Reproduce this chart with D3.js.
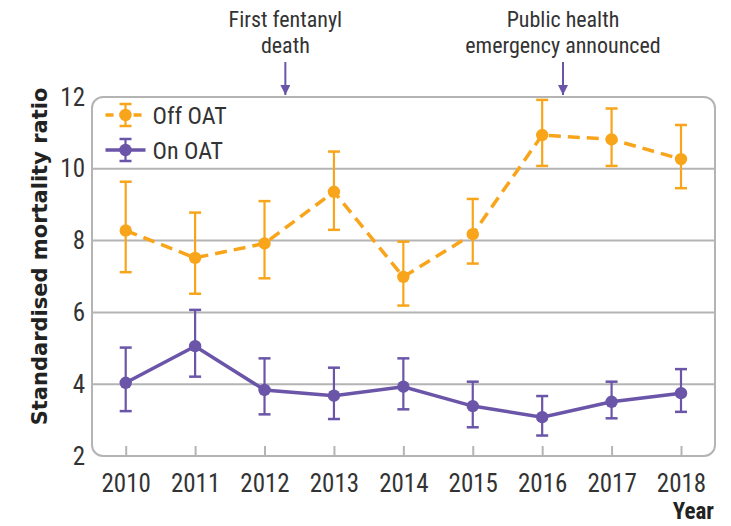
<!DOCTYPE html>
<html>
<head>
<meta charset="utf-8">
<script src="https://cdn.jsdelivr.net/npm/d3@7"></script>
<style>
  html, body { margin: 0; padding: 0; background: #fff; }
  svg { display: block; }
  .cond { font-family: "Liberation Sans Narrow", "Roboto Condensed", "Open Sans", sans-serif; }
</style>
</head>
<body>
<svg id="chart" width="731" height="526"></svg>
<script>
// Standardised mortality ratio by year, on and off opioid agonist treatment (OAT)
const years = [2010, 2011, 2012, 2013, 2014, 2015, 2016, 2017, 2018];

const offOat      = [8.28, 7.52, 7.92, 9.36, 6.99, 8.18, 10.94, 10.82, 10.27];
const offOatLower = [7.12, 6.52, 6.95, 8.30, 6.19, 7.36, 10.08, 10.08, 9.46];
const offOatUpper = [9.64, 8.78, 9.10, 10.48, 7.97, 9.16, 11.92, 11.68, 11.22];

const onOat      = [4.04, 5.06, 3.84, 3.68, 3.93, 3.39, 3.08, 3.51, 3.75];
const onOatLower = [3.25, 4.21, 3.16, 3.03, 3.30, 2.80, 2.57, 3.05, 3.23];
const onOatUpper = [5.02, 6.07, 4.72, 4.46, 4.72, 4.07, 3.67, 4.07, 4.42];

const yTicks = [2, 4, 6, 8, 10, 12];

const events = [
  { year: 2012.3, lines: ["First fentanyl", "death"] },
  { year: 2016.3, lines: ["Public health", "emergency announced"] }
];

const ORANGE = "#f8a51b";
const PURPLE = "#6a55a8";
const GRID = "#b4b4b4";

const svg = d3.select("#chart");

const box = { left: 92, right: 715, top: 97, bottom: 456 };

const x = d3.scaleLinear().domain([2010, 2018]).range([125.7, 681]);
const y = d3.scaleLinear().domain([2, 12]).range([box.bottom, box.top]);

// horizontal gridlines
svg.append("g")
  .selectAll("line")
  .data(yTicks.filter(t => t > 2 && t < 12))
  .join("line")
  .attr("x1", box.left).attr("x2", box.right)
  .attr("y1", d => y(d)).attr("y2", d => y(d))
  .attr("stroke", GRID).attr("stroke-width", 2);

// rounded plot frame
svg.append("rect")
  .attr("x", box.left).attr("y", box.top)
  .attr("width", box.right - box.left).attr("height", box.bottom - box.top)
  .attr("rx", 11).attr("ry", 11)
  .attr("fill", "none").attr("stroke", GRID).attr("stroke-width", 2);

// y axis labels
const yAxis = svg.append("g")
  .attr("transform", `translate(${box.left - 7},0)`)
  .call(d3.axisLeft(y).tickValues(yTicks).tickSize(0).tickPadding(0).tickFormat(d3.format("d")));
yAxis.select(".domain").remove();
yAxis.selectAll("text")
  .attr("class", "cond")
  .attr("font-size", 25)
  .attr("fill", "#333");

// x axis: inward ticks from the bottom edge
const xAxis = svg.append("g")
  .attr("transform", `translate(0,${box.bottom})`)
  .call(d3.axisBottom(x).tickValues(years).tickSizeInner(-10).tickSizeOuter(0).tickPadding(18).tickFormat(d3.format("d")));
xAxis.select(".domain").remove();
xAxis.selectAll(".tick line").attr("stroke", GRID).attr("stroke-width", 2);
xAxis.selectAll("text")
  .attr("class", "cond")
  .attr("font-size", 25)
  .attr("fill", "#333");

// axis titles
svg.append("text")
  .attr("transform", `translate(47,${(box.top + box.bottom) / 2 - 20}) rotate(-90)`)
  .attr("text-anchor", "middle")
  .attr("font-family", "DejaVu Sans, sans-serif")
  .attr("font-weight", "bold")
  .attr("font-size", 21)
  .attr("fill", "#222")
  .text("Standardised mortality ratio");

svg.append("text")
  .attr("class", "cond")
  .attr("x", 714).attr("y", 519)
  .attr("text-anchor", "end")
  .attr("font-weight", "bold")
  .attr("font-size", 23)
  .attr("fill", "#222")
  .text("Year");

// event annotations with arrows
svg.append("defs").append("marker")
  .attr("id", "arrowhead")
  .attr("viewBox", "0 0 10 10")
  .attr("refX", 10).attr("refY", 5)
  .attr("markerWidth", 5).attr("markerHeight", 5)
  .attr("markerUnits", "strokeWidth")
  .attr("orient", "auto")
  .append("path").attr("d", "M0,0 L10,5 L0,10 z").attr("fill", PURPLE);

const ev = svg.append("g").selectAll("g").data(events).join("g");
ev.append("line")
  .attr("x1", d => x(d.year)).attr("x2", d => x(d.year))
  .attr("y1", 62).attr("y2", 95)
  .attr("stroke", PURPLE).attr("stroke-width", 2)
  .attr("marker-end", "url(#arrowhead)");
ev.each(function(d) {
  const g = d3.select(this);
  d.lines.forEach((ln, i) => {
    g.append("text")
      .attr("class", "cond")
      .attr("text-anchor", "middle")
      .attr("font-size", 22)
      .attr("fill", "#333")
      .attr("x", x(d.year)).attr("y", 27 + i * 26)
      .text(ln);
  });
});

// series drawing helper
function drawSeries(vals, lo, hi, color, dashed) {
  const g = svg.append("g");
  const pts = years.map((yr, i) => ({ yr, v: vals[i], lo: lo[i], hi: hi[i] }));
  g.append("path")
    .datum(pts)
    .attr("fill", "none")
    .attr("stroke", color)
    .attr("stroke-width", 3.5)
    .attr("stroke-dasharray", dashed ? "12,7" : null)
    .attr("d", d3.line().x(d => x(d.yr)).y(d => y(d.v)));
  const eb = g.selectAll(".eb").data(pts).join("g").attr("class", "eb");
  eb.append("line")
    .attr("x1", d => x(d.yr)).attr("x2", d => x(d.yr))
    .attr("y1", d => y(d.lo)).attr("y2", d => y(d.hi))
    .attr("stroke", color).attr("stroke-width", 2.2);
  ["lo", "hi"].forEach(k => {
    eb.append("line")
      .attr("x1", d => x(d.yr) - 6).attr("x2", d => x(d.yr) + 6)
      .attr("y1", d => y(d[k])).attr("y2", d => y(d[k]))
      .attr("stroke", color).attr("stroke-width", 2.5);
  });
  eb.append("circle")
    .attr("cx", d => x(d.yr)).attr("cy", d => y(d.v))
    .attr("r", 6.2).attr("fill", color);
}

drawSeries(onOat, onOatLower, onOatUpper, PURPLE, false);
drawSeries(offOat, offOatLower, offOatUpper, ORANGE, true);

// legend
const legendItems = [
  { label: "Off OAT", color: ORANGE, dashed: true },
  { label: "On OAT", color: PURPLE, dashed: false }
];
const lg = svg.append("g").selectAll("g").data(legendItems).join("g")
  .attr("transform", (d, i) => `translate(125.5,${115 + i * 35})`);
lg.append("line")
  .attr("x1", -20).attr("x2", 20)
  .attr("stroke", d => d.color).attr("stroke-width", 3.5)
  .attr("stroke-dasharray", d => d.dashed ? "8,6" : null);
lg.append("line")
  .attr("y1", -11).attr("y2", 11)
  .attr("stroke", d => d.color).attr("stroke-width", 2.2);
lg.selectAll(".cap").data(d => [-11, 11].map(v => ({ v, c: d.color }))).join("line")
  .attr("class", "cap")
  .attr("x1", -6).attr("x2", 6)
  .attr("y1", d => d.v).attr("y2", d => d.v)
  .attr("stroke", d => d.c).attr("stroke-width", 2.5);
lg.append("circle").attr("r", 6.2).attr("fill", d => d.color);
lg.append("text")
  .attr("class", "cond")
  .attr("x", 27).attr("y", 8.5)
  .attr("font-size", 24)
  .attr("fill", "#333")
  .text(d => d.label);
</script>
</body>
</html>
